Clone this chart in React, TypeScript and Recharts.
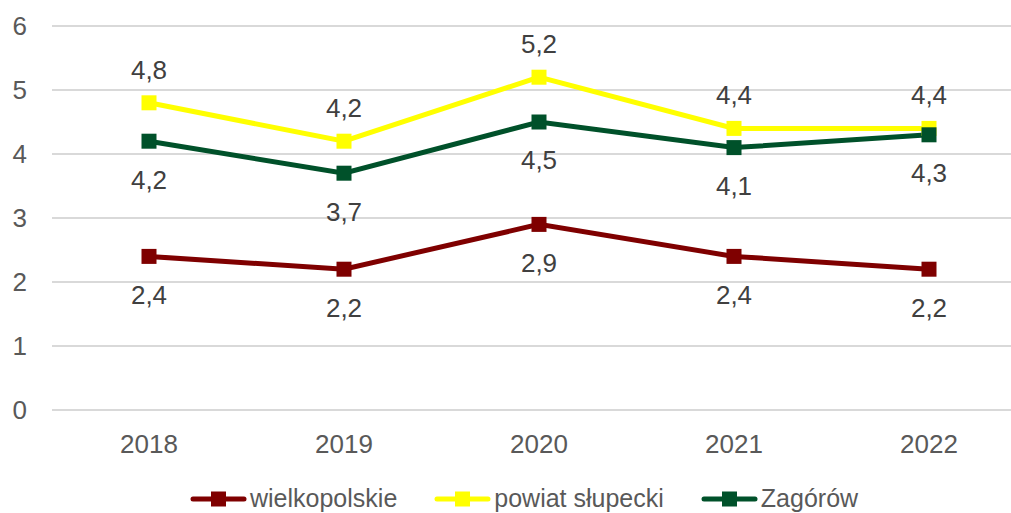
import React from "react";
import { CartesianGrid, LabelList, Legend, Line, LineChart, XAxis, YAxis } from "recharts";

const years = ["2018", "2019", "2020", "2021", "2022"];
const wielkopolskie = [2.4, 2.2, 2.9, 2.4, 2.2];
const powiatSlupecki = [4.8, 4.2, 5.2, 4.4, 4.4];
const zagorow = [4.2, 3.7, 4.5, 4.1, 4.3];
const yTicks = [0, 1, 2, 3, 4, 5, 6];

const data = years.map((year, i) => ({
  year,
  wielkopolskie: wielkopolskie[i],
  powiat: powiatSlupecki[i],
  zagorow: zagorow[i],
}));

const seriesList = [
  { key: "wielkopolskie", name: "wielkopolskie", color: "#7f0000", labelPos: "bottom" as const, labelOffset: 29 },
  { key: "powiat", name: "powiat słupecki", color: "#ffff00", labelPos: "top" as const, labelOffset: 24 },
  { key: "zagorow", name: "Zagórów", color: "#00512a", labelPos: "bottom" as const, labelOffset: 29 },
];

const FONT = "'Liberation Sans', Arial, sans-serif";

const fmt = (v: any) => String(v).replace(".", ",");

function squareDot(color: string) {
  return (props: any) => {
    const { cx, cy, index } = props;
    if (cx == null || cy == null) return <g key={index} />;
    return <rect key={index} x={cx - 7.5} y={cy - 7.5} width={15} height={15} fill={color} />;
  };
}

function LegendContent() {
  return (
    <div style={{ display: "flex", alignItems: "center", fontFamily: FONT, fontSize: 25, color: "#595959" }}>
      {seriesList.map((s, i) => (
        <div key={s.key} style={{ display: "flex", alignItems: "center", marginRight: i < seriesList.length - 1 ? 37 : 0 }}>
          <svg width={57} height={16} style={{ marginRight: 3 }}>
            <line x1={3} y1={8} x2={54} y2={8} stroke={s.color} strokeWidth={5} strokeLinecap="round" />
            <rect x={21} y={0.5} width={15} height={15} fill={s.color} />
          </svg>
          <span style={{ lineHeight: "25px" }}>{s.name}</span>
        </div>
      ))}
    </div>
  );
}

export default function App() {
  return (
    <div style={{ position: "absolute", left: 0, top: 0, width: 1030, height: 513, background: "#fff" }}>
      <LineChart width={1030} height={513} data={data} margin={{ top: 26, right: 4, bottom: 0, left: 0 }}>
        <CartesianGrid vertical={false} stroke="#d9d9d9" strokeWidth={2} />
        <XAxis
          dataKey="year"
          axisLine={false}
          tickLine={false}
          tickSize={0}
          tickMargin={25}
          height={103}
          padding={{ left: 97, right: 97 }}
          tick={{ fill: "#595959", fontSize: 26, fontFamily: FONT }}
        />
        <YAxis
          domain={[0, 6]}
          ticks={yTicks}
          axisLine={false}
          tickLine={false}
          tickSize={0}
          tickMargin={25}
          width={52}
          tick={{ fill: "#595959", fontSize: 26, fontFamily: FONT }}
        />
        <Legend
          verticalAlign="middle"
          layout="horizontal"
          content={<LegendContent />}
          wrapperStyle={{ top: 486, left: 190, width: 800 }}
        />
        {seriesList.map((s) => (
          <Line
            key={s.key}
            dataKey={s.key}
            name={s.name}
            stroke={s.color}
            strokeWidth={5}
            dot={squareDot(s.color)}
            activeDot={false}
            isAnimationActive={false}
          >
            <LabelList
              dataKey={s.key}
              position={s.labelPos}
              offset={s.labelOffset}
              formatter={fmt}
              style={{ fill: "#404040", fontSize: 26, fontFamily: FONT }}
            />
          </Line>
        ))}
      </LineChart>
    </div>
  );
}
